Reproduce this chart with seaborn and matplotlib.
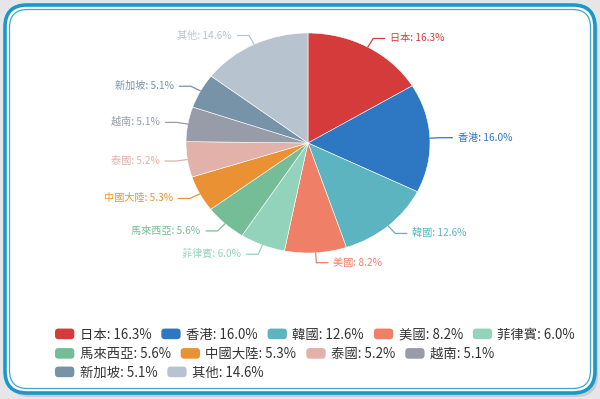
import numpy as np
import matplotlib
matplotlib.use("Agg")
import matplotlib.pyplot as plt
import seaborn as sns
from matplotlib.patches import FancyBboxPatch
from matplotlib.legend_handler import HandlerPatch
from matplotlib.transforms import IdentityTransform

sns.set_theme(style="white")
plt.rcParams['font.family'] = ['Noto Sans CJK TC', 'DejaVu Sans']

# data
regions = ["日本", "香港", "韓國", "美國", "菲律賓", "馬來西亞", "中國大陸", "泰國", "越南", "新加坡", "其他"]
shares = [16.3, 16.0, 12.6, 8.2, 6.0, 5.6, 5.3, 5.2, 5.1, 5.1, 14.6]
colors = ["#d63b3b", "#2e77c3", "#5cb4c0", "#ef7f67", "#94d3bb", "#75bd96",
          "#ea9233", "#e1b1aa", "#989ca9", "#7793a8", "#b7c4cf"]
legend_rows = [5, 4, 2]

palette = sns.color_palette(colors)

W, H = 600, 399
fig = plt.figure(figsize=(W / 100, H / 100), dpi=100)
fig.patch.set_facecolor("#e4e6e8")

# card with shadow and double blue border (pixel coords, origin bottom-left)
px = IdentityTransform()
shadow = FancyBboxPatch((8, 2), 590, 388, boxstyle="round,pad=0,rounding_size=22",
                        transform=px, facecolor="#b9bcbf", edgecolor="none", alpha=0.6, zorder=-3)
card = FancyBboxPatch((5, 6), 590, 388, boxstyle="round,pad=0,rounding_size=22",
                      transform=px, facecolor="white", edgecolor="#1b98c8", linewidth=2.6, zorder=-2)
inner = FancyBboxPatch((9.5, 10.5), 581, 379, boxstyle="round,pad=0,rounding_size=18",
                       transform=px, facecolor="none", edgecolor="#3aa8d2", linewidth=0.9, zorder=-1)
for p in (shadow, card, inner):
    fig.add_artist(p)

# pie (slightly wider than tall, like the reference)
cx, cy = 308, H - 143
rx, ry = 122, 110
k = 1.5
ax = fig.add_axes([(cx - k * rx) / W, (cy - k * ry) / H, 2 * k * rx / W, 2 * k * ry / H])
ax.patch.set_alpha(0)
wedges, _ = ax.pie(shares, colors=palette, startangle=90, counterclock=False,
                   wedgeprops=dict(edgecolor="white", linewidth=0.4))
ax.set_aspect("auto")
ax.set_xlim(-k, k)
ax.set_ylim(-k, k)
ax.axis("off")

# labels with two-segment leader lines
r1 = 1.09
seg2 = 0.095
for w, name, val, col in zip(wedges, regions, shares, colors):
    ang = np.deg2rad((w.theta1 + w.theta2) / 2)
    x0, y0 = np.cos(ang), np.sin(ang)
    x1, y1 = r1 * x0, r1 * y0
    side = 1 if x0 >= 0 else -1
    x2 = x1 + side * seg2
    ax.plot([x0, x1, x2], [y0, y1, y1], color=col, lw=0.9, clip_on=False)
    ax.text(x2 + side * 0.045, y1, f"{name}: {val:.1f}%", color=col, fontsize=7.3,
            ha="left" if side > 0 else "right", va="center", clip_on=False)


class RoundHandler(HandlerPatch):
    def create_artists(self, legend, orig_handle, xdescent, ydescent, width, height, fontsize, trans):
        p = FancyBboxPatch((-xdescent, -ydescent), width, height,
                           boxstyle="round,pad=0,rounding_size=2.5",
                           facecolor=orig_handle.get_facecolor(), edgecolor="none", transform=trans)
        return [p]


# legend, flowing rows
row_y = [H - 334.5, H - 354, H - 372.5]
start = 0
for n, yy in zip(legend_rows, row_y):
    hs = wedges[start:start + n]
    labs = [f"{regions[i]}: {shares[i]:.1f}%" for i in range(start, start + n)]
    leg = fig.legend(hs, labs, ncol=n, loc="center left", bbox_to_anchor=(55 / W, yy / H),
                     frameon=False, fontsize=9.6, handlelength=1.45, handleheight=0.85,
                     handletextpad=0.4, columnspacing=0.75, borderpad=0, borderaxespad=0,
                     labelcolor="#333333", handler_map={matplotlib.patches.Wedge: RoundHandler()})
    start += n

fig.savefig("out.png", dpi=100, facecolor=fig.get_facecolor())
